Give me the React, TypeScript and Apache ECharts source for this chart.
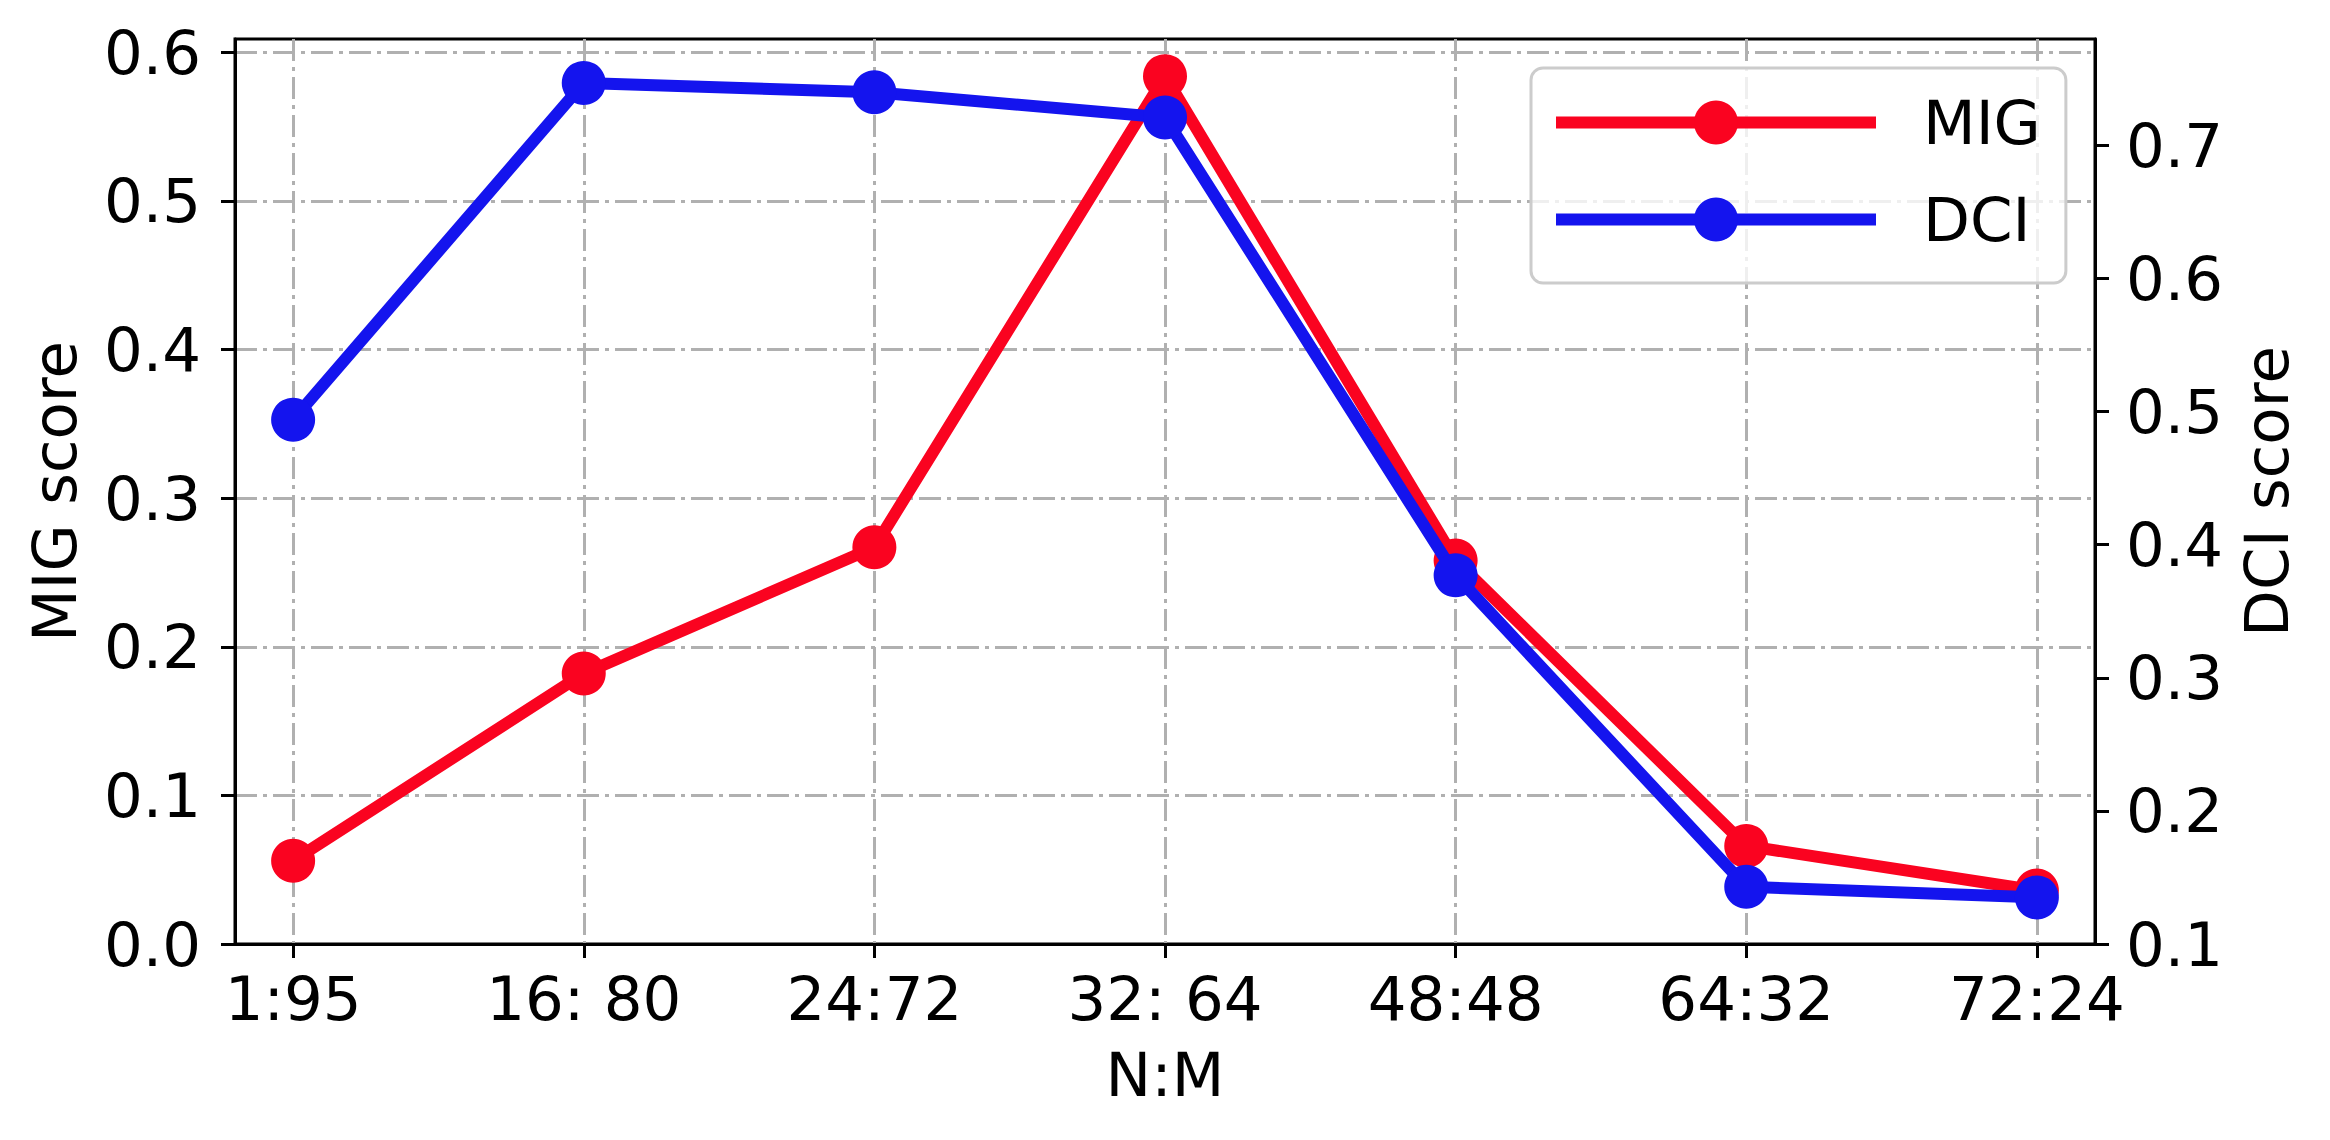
import React, { useEffect, useRef } from 'react';
import * as echarts from 'echarts';

const categories = ['1:95', '16: 80', '24:72', '32: 64', '48:48', '64:32', '72:24'];
const migValues = [0.056, 0.182, 0.267, 0.584, 0.258, 0.066, 0.036];
const dciValues = [0.494, 0.747, 0.74, 0.721, 0.377, 0.143, 0.135];
const migTicks = [0, 0.1, 0.2, 0.3, 0.4, 0.5, 0.6];
const dciTicks = [0.1, 0.2, 0.3, 0.4, 0.5, 0.6, 0.7];
const xTicks = [0, 1, 2, 3, 4, 5, 6];

const FONT = 'DejaVu Sans';
const FS = 61;
const RED = '#fa0320';
const BLUE = '#1414ee';
const GRIDLINE = { color: '#b0b0b0', width: 3, type: [22, 6, 4, 6] as number[] };

export default function App() {
  const ref = useRef<HTMLDivElement>(null);
  useEffect(() => {
    if (!ref.current) return;
    const chart = echarts.init(ref.current, undefined, { renderer: 'svg' });
    const migData = migValues.map((v, i) => [i, v]);
    const dciData = dciValues.map((v, i) => [i, v]);
    chart.setOption({
      animation: false,
      backgroundColor: '#ffffff',
      textStyle: { fontFamily: FONT },
      grid: {
        left: 235,
        right: 235,
        top: 39,
        bottom: 196,
        show: true,
        borderColor: '#000',
        borderWidth: 3,
        backgroundColor: 'transparent',
      },
      legend: {
        left: 1531,
        top: 68,
        orient: 'vertical',
        itemWidth: 320,
        itemHeight: 55,
        itemGap: 36,
        padding: [24, 25, 33, 19],
        backgroundColor: 'rgba(255,255,255,0.8)',
        borderColor: '#cccccc',
        borderWidth: 3,
        borderRadius: 12,
        lineStyle: { width: 12 },
        textStyle: { fontFamily: FONT, fontSize: FS, color: '#000', padding: [0, 0, 0, 42] },
        data: ['MIG', 'DCI'],
      },
      xAxis: {
        type: 'value',
        min: -0.2,
        max: 6.2,
        name: 'N:M',
        nameLocation: 'middle',
        nameGap: 100,
        nameTextStyle: { fontFamily: FONT, fontSize: FS, color: '#000' },
        axisLine: { show: true, onZero: false, lineStyle: { color: '#000', width: 3 } },
        axisTick: { show: true, customValues: xTicks, length: 14, lineStyle: { color: '#000', width: 3 } },
        axisLabel: {
          customValues: xTicks,
          margin: 24,
          fontFamily: FONT,
          fontSize: FS,
          color: '#000',
          formatter: (v: number) => categories[Math.round(v)] ?? '',
        },
        splitLine: { show: true, lineStyle: GRIDLINE },
      },
      yAxis: [
        {
          type: 'value',
          min: 0,
          max: 0.609,
          position: 'left',
          name: 'MIG score',
          nameLocation: 'middle',
          nameRotate: 90,
          nameGap: 150,
          nameTextStyle: { fontFamily: FONT, fontSize: FS, color: '#000' },
          axisLine: { show: true, onZero: false, lineStyle: { color: '#000', width: 3 } },
          axisTick: { show: true, customValues: migTicks, length: 14, lineStyle: { color: '#000', width: 3 } },
          axisLabel: {
            customValues: migTicks,
            margin: 34,
            fontFamily: FONT,
            fontSize: FS,
            color: '#000',
            formatter: (v: number) => v.toFixed(1),
          },
          splitLine: { show: true, lineStyle: GRIDLINE },
        },
        {
          type: 'value',
          min: 0.1,
          max: 0.78,
          position: 'right',
          name: 'DCI score',
          nameLocation: 'middle',
          nameRotate: 90,
          nameGap: 141,
          nameTextStyle: { fontFamily: FONT, fontSize: FS, color: '#000' },
          axisLine: { show: true, onZero: false, lineStyle: { color: '#000', width: 3 } },
          axisTick: { show: true, customValues: dciTicks, length: 14, lineStyle: { color: '#000', width: 3 } },
          axisLabel: {
            customValues: dciTicks,
            margin: 31,
            fontFamily: FONT,
            fontSize: FS,
            color: '#000',
            formatter: (v: number) => v.toFixed(1),
          },
          splitLine: { show: false },
        },
      ],
      series: [
        {
          name: 'MIG',
          type: 'line',
          yAxisIndex: 0,
          data: migData,
          symbol: 'circle',
          symbolSize: 44,
          color: RED,
          itemStyle: { color: RED },
          lineStyle: { color: RED, width: 12 },
          z: 3,
        },
        {
          name: 'DCI',
          type: 'line',
          yAxisIndex: 1,
          data: dciData,
          symbol: 'circle',
          symbolSize: 44,
          color: BLUE,
          itemStyle: { color: BLUE },
          lineStyle: { color: BLUE, width: 12 },
          z: 4,
        },
      ],
    });
    return () => chart.dispose();
  }, []);
  return (
    <div
      ref={ref}
      style={{ position: 'absolute', left: 0, top: 0, width: 2330, height: 1140, background: '#fff' }}
    />
  );
}
